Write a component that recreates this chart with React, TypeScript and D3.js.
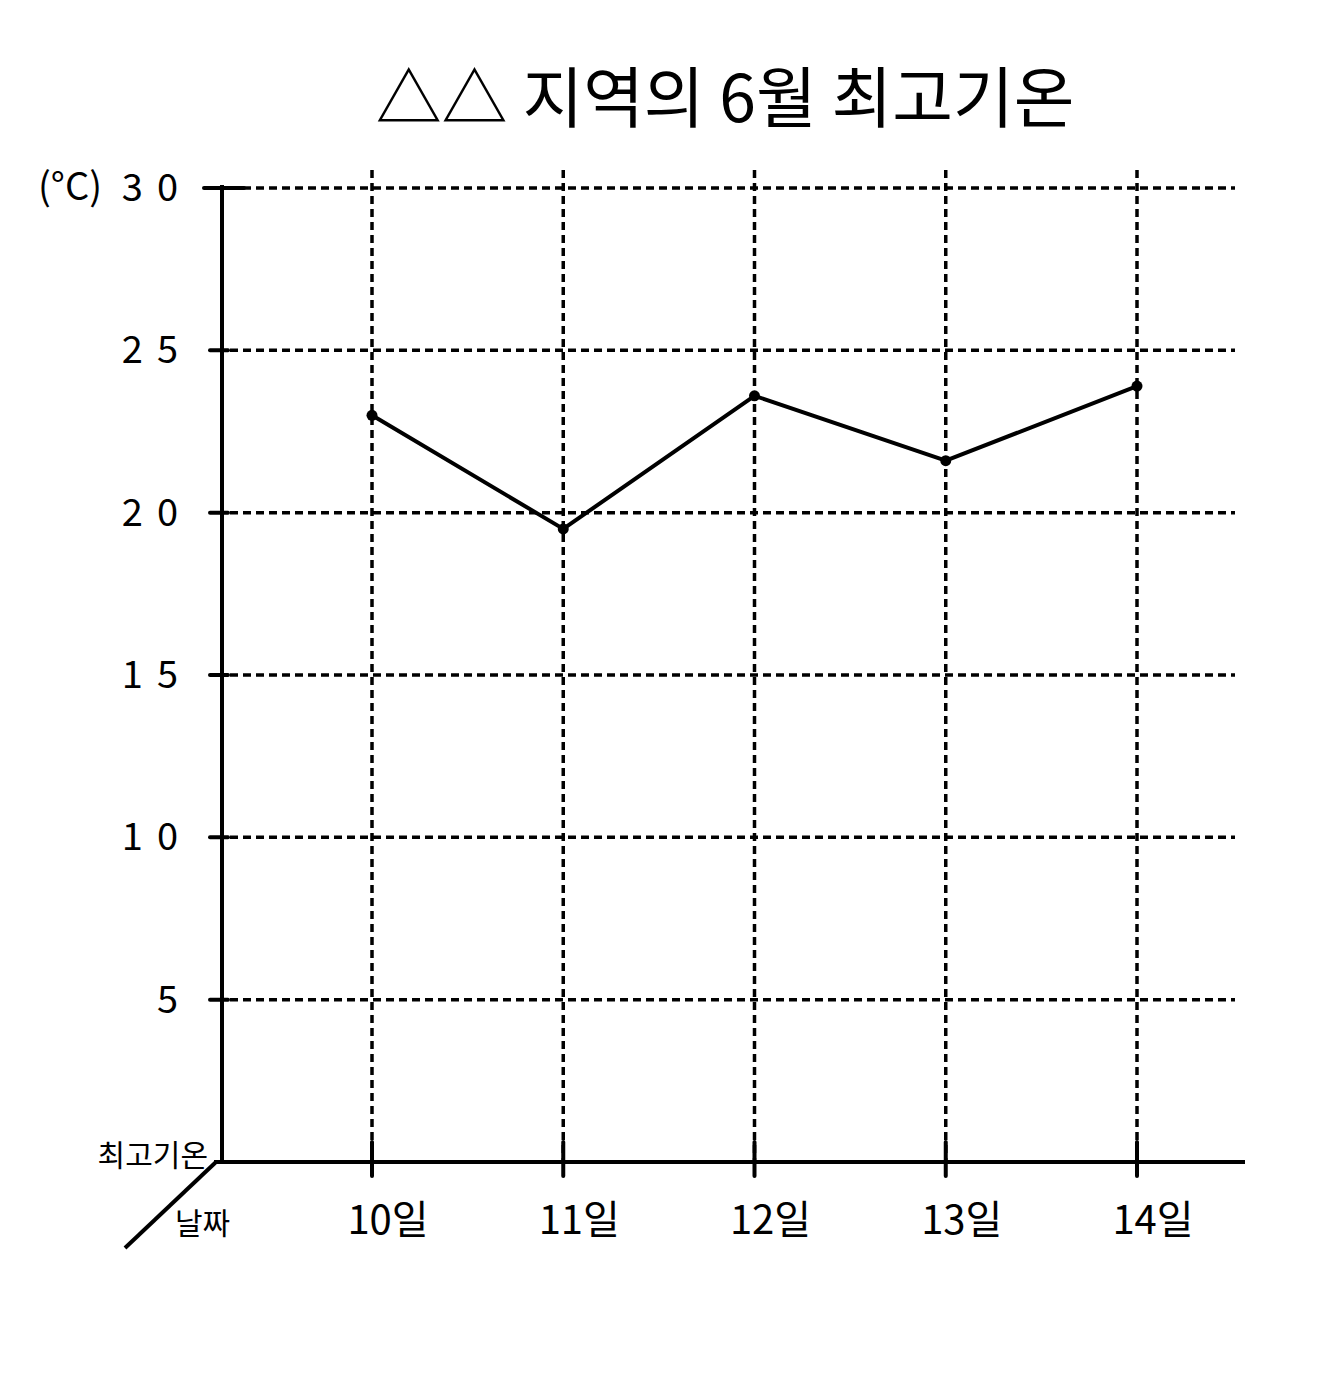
import React, { useEffect, useRef } from "react";
import * as d3 from "d3";

// data
const days = ["10일", "11일", "12일", "13일", "14일"];
const maxTemps = [23, 19.5, 23.6, 21.6, 23.9];
const yTicks = [5, 10, 15, 20, 25, 30];

const App: React.FC = () => {
  const ref = useRef<SVGSVGElement | null>(null);

  useEffect(() => {
    const svg = d3.select(ref.current);
    svg.selectAll("*").remove();

    const font = "'Noto Sans CJK KR', 'Noto Sans', sans-serif";
    const left = 222;
    const bottom = 1162;
    const top = 188;
    const right = 1245;

    const x = d3.scalePoint<string>().domain(days).range([372, 1137]);
    const y = d3.scaleLinear().domain([0, 30]).range([bottom, top]);

    // title
    svg
      .append("text")
      .attr("x", 725)
      .attr("y", 122)
      .attr("text-anchor", "middle")
      .attr("font-family", font)
      .attr("font-size", 66)
      .attr("fill", "#000")
      .text("△△ 지역의 6월 최고기온");

    // horizontal grid
    svg
      .append("g")
      .selectAll("line")
      .data(yTicks)
      .join("line")
      .attr("x1", left + 8)
      .attr("x2", 1235)
      .attr("y1", (d) => y(d))
      .attr("y2", (d) => y(d))
      .attr("stroke", "#000")
      .attr("stroke-width", 3.5)
      .attr("stroke-dasharray", "8 5");

    // vertical grid
    svg
      .append("g")
      .selectAll("line")
      .data(days)
      .join("line")
      .attr("x1", (d) => x(d) as number)
      .attr("x2", (d) => x(d) as number)
      .attr("y1", 170)
      .attr("y2", bottom)
      .attr("stroke", "#000")
      .attr("stroke-width", 3.5)
      .attr("stroke-dasharray", "8 5");

    // axes
    svg
      .append("line")
      .attr("x1", left)
      .attr("x2", left)
      .attr("y1", 185)
      .attr("y2", bottom)
      .attr("stroke", "#000")
      .attr("stroke-width", 4);
    svg
      .append("line")
      .attr("x1", left - 8)
      .attr("x2", right)
      .attr("y1", bottom)
      .attr("y2", bottom)
      .attr("stroke", "#000")
      .attr("stroke-width", 4);
    svg
      .append("line")
      .attr("x1", left - 6)
      .attr("x2", 125)
      .attr("y1", bottom)
      .attr("y2", 1248)
      .attr("stroke", "#000")
      .attr("stroke-width", 4);

    // y tick marks + labels
    const yt = svg.append("g").selectAll("g").data(yTicks).join("g");
    yt.append("line")
      .attr("x1", (d) => (d === 30 ? left - 18 : left - 12))
      .attr("x2", (d) => (d === 30 ? left + 22 : left + 6))
      .attr("y1", (d) => y(d))
      .attr("y2", (d) => y(d))
      .attr("stroke", "#000")
      .attr("stroke-width", 4)
      .attr("stroke-linecap", "round");
    yt.append("text")
      .attr("x", 192)
      .attr("y", (d) => y(d) + 13)
      .attr("text-anchor", "end")
      .attr("font-family", font)
      .attr("font-size", 38)
      .attr("letter-spacing", 14)
      .text((d) => String(d));

    svg
      .append("text")
      .attr("x", 38)
      .attr("y", 200)
      .attr("font-family", font)
      .attr("font-size", 38)
      .text("(°C)");

    // x tick marks + labels
    const xt = svg.append("g").selectAll("g").data(days).join("g");
    xt.append("line")
      .attr("x1", (d) => x(d) as number)
      .attr("x2", (d) => x(d) as number)
      .attr("y1", bottom - 20)
      .attr("y2", bottom + 14)
      .attr("stroke", "#000")
      .attr("stroke-width", 4)
      .attr("stroke-linecap", "round");
    xt.append("text")
      .attr("x", (d) => (x(d) as number) + 16)
      .attr("y", 1234)
      .attr("text-anchor", "middle")
      .attr("font-family", font)
      .attr("font-size", 40)
      .text((d) => d);

    svg
      .append("text")
      .attr("x", 208)
      .attr("y", 1166)
      .attr("text-anchor", "end")
      .attr("font-family", font)
      .attr("font-size", 30)
      .text("최고기온");
    svg
      .append("text")
      .attr("x", 175)
      .attr("y", 1234)
      .attr("font-family", font)
      .attr("font-size", 30)
      .text("날짜");

    // line
    const pts = days.map((d, i) => [x(d) as number, y(maxTemps[i])] as [number, number]);
    svg
      .append("path")
      .attr("d", d3.line()(pts))
      .attr("fill", "none")
      .attr("stroke", "#000")
      .attr("stroke-width", 4)
      .attr("stroke-linejoin", "round");
    svg
      .append("g")
      .selectAll("circle")
      .data(pts)
      .join("circle")
      .attr("cx", (d) => d[0])
      .attr("cy", (d) => d[1])
      .attr("r", 5.5)
      .attr("fill", "#000");
  }, []);

  return (
    <svg
      ref={ref}
      width={1335}
      height={1393}
      style={{ position: "absolute", left: 0, top: 0, background: "#fff" }}
    />
  );
};

export default App;
